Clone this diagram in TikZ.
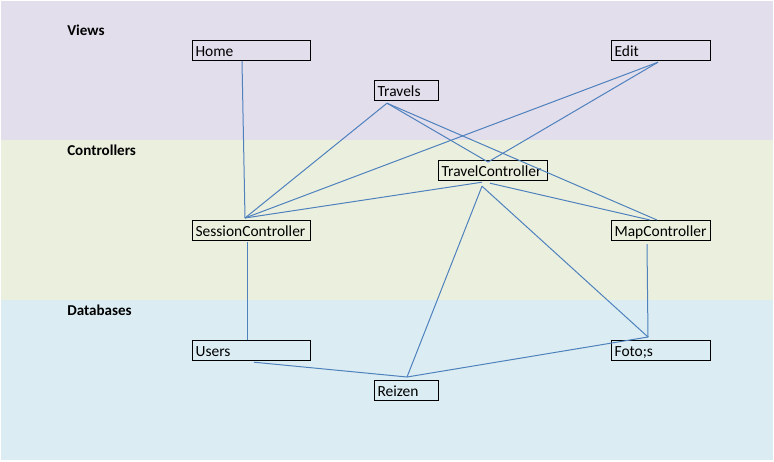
\documentclass[tikz,border=0pt]{standalone}
\usepackage{fontspec}
\setmainfont{Carlito}
\usetikzlibrary{calc}
\definecolor{vistas}{RGB}{226,222,236}
\definecolor{control}{RGB}{235,240,222}
\definecolor{datos}{RGB}{219,237,243}
\definecolor{linea}{RGB}{79,129,189}

\begin{document}
\begin{tikzpicture}[x=0.75pt, y=-0.75pt,
    caja/.style={draw, line width=0.9pt, anchor=north west, minimum height=15pt,
      inner xsep=2.25pt, inner ysep=0pt, text height=9pt, text depth=0pt,
      align=left, font=\fontsize{11.6}{13}\selectfont},
    capa/.style={anchor=base west, inner sep=0pt, font=\fontsize{11.3}{13}\selectfont\bfseries},
    enlace/.style={draw=linea, line width=0.75pt}]

    % Fondo y franjas
    \useasboundingbox (0,0) rectangle (774,461);
    \fill[white] (0,0) rectangle (774,461);
    \fill[vistas] (1,1) rectangle (773,140);
    \fill[control] (1,140) rectangle (773,300);
    \fill[datos] (1,300) rectangle (773,460);

    % Titulos de las capas
    \node[capa] (tviews) at (67,35.5) {Views};
    \node[capa] (tcontrol) at (67,155.5) {Controllers};
    \node[capa] (tdb) at (67,315.5) {Databases};

    % Vistas
    \node[caja, text width=84pt] (home) at (192,40) {Home};
    \node[caja, text width=43.5pt] (travels) at (374,80) {Travels};
    \node[caja, text width=69.75pt] (edit) at (611,40) {Edit};

    % Controladores
    \node[caja, text width=77.25pt] (tc) at (438,160) {TravelController};
    \node[caja, text width=84pt] (session) at (192,220) {SessionController};
    \node[caja, text width=69.75pt] (map) at (611,220) {MapController};

    % Bases de datos
    \node[caja, text width=84pt] (users) at (192,340) {Users};
    \node[caja, text width=43.5pt] (reizen) at (374,380) {Reizen};
    \node[caja, text width=69.75pt] (fotos) at (611,340) {Foto;s};

    % Puntos de enganche
    \coordinate (homeP) at ($(home.south west)+(50,0)$);
    \coordinate (travelsP) at ($(travels.south west)+(13,2)$);
    \coordinate (editP) at ($(edit.south west)+(47,1)$);
    \coordinate (tcN) at ($(tc.north west)+(50,2)$);
    \coordinate (tcS) at ($(tc.south west)+(44,1)$);
    \coordinate (tcD) at ($(tc.south west)+(44,5)$);
    \coordinate (tcE) at ($(tc.south west)+(52,2)$);
    \coordinate (sessionN) at ($(session.north west)+(53,-2)$);
    \coordinate (sessionS) at ($(session.south west)+(55,1)$);
    \coordinate (mapN) at ($(map.north west)+(39,0)$);
    \coordinate (mapNE) at ($(map.north west)+(46,0)$);
    \coordinate (mapS) at ($(map.south west)+(36,3)$);
    \coordinate (usersN) at ($(users.north west)+(55,0)$);
    \coordinate (usersS) at ($(users.south west)+(62,1)$);
    \coordinate (reizenN) at ($(reizen.north west)+(33,-3)$);
    \coordinate (fotosN) at ($(fotos.north west)+(37,-3)$);

    % Enlaces
    \draw[enlace] (homeP) -- (sessionN);
    \draw[enlace] (travelsP) -- (sessionN);
    \draw[enlace] (editP) -- (sessionN);
    \draw[enlace] (tcS) -- (sessionN);
    \draw[enlace] (editP) -- (tcN);
    \draw[enlace] (travelsP) -- (tcN);
    \draw[enlace] (travelsP) -- (mapNE);
    \draw[enlace] (tcE) -- (mapN);
    \draw[enlace] (tcD) -- (reizenN);
    \draw[enlace] (tcD) -- (fotosN);
    \draw[enlace] (mapS) -- (fotosN);
    \draw[enlace] (sessionS) -- (usersN);
    \draw[enlace] (usersS) -- (reizenN);
    \draw[enlace] (reizenN) -- (fotosN);
\end{tikzpicture}
\end{document}
